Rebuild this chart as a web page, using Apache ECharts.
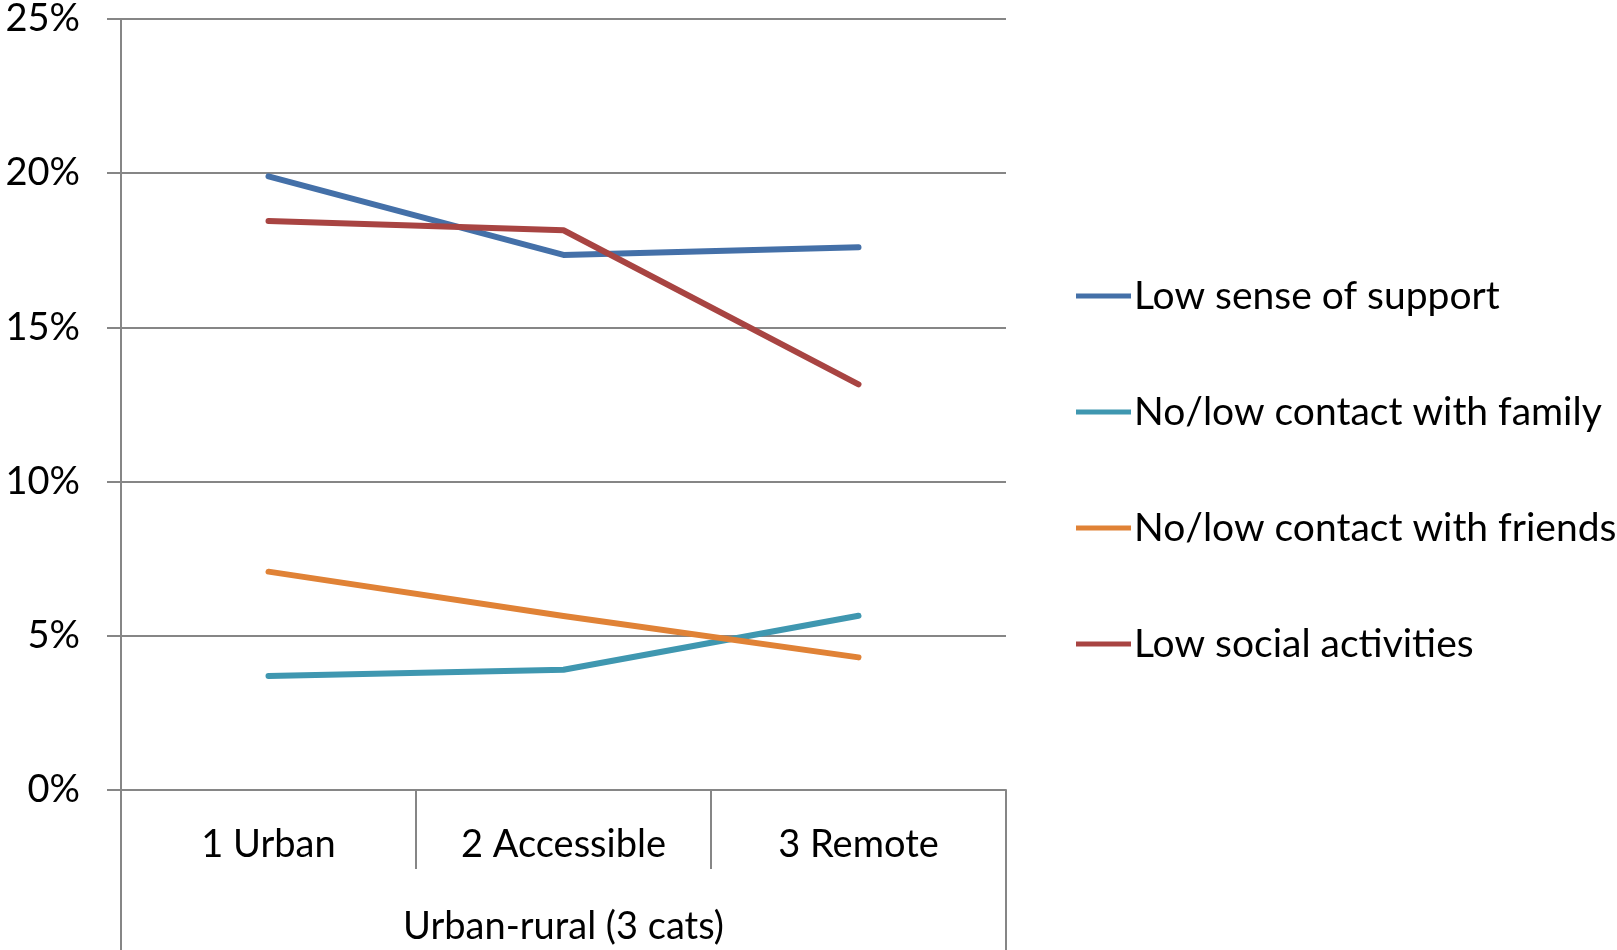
<!DOCTYPE html>
<html>
<head>
<meta charset="utf-8">
<script src="https://cdn.jsdelivr.net/npm/echarts@6/dist/echarts.min.js"></script>
<style>
  html, body { margin: 0; padding: 0; background: #fff; }
  #chart { width: 1617px; height: 950px; }
</style>
</head>
<body>
<div id="chart"></div>
<script>
var categories = ['1 Urban', '2 Accessible', '3 Remote'];
var groupLabel = ['Urban-rural (3 cats)'];
var seriesNames = ['Low sense of support', 'No/low contact with family', 'No/low contact with friends', 'Low social activities'];
var lowSupport = [19.9, 17.35, 17.6];
var lowFamily = [3.7, 3.9, 5.65];
var lowFriends = [7.08, 5.64, 4.3];
var lowSocial = [18.45, 18.15, 13.15];
var colors = ['#4470A8', '#3F97B0', '#E08236', '#A84442'];

var chartDom = document.getElementById('chart');
var myChart = echarts.init(chartDom);
var font = 'Lato';

function makeSeries(name, values, color) {
  return {
    name: name,
    type: 'line',
    data: values,
    symbol: 'none',
    xAxisIndex: 0,
    lineStyle: { color: color, width: 6, cap: 'round', join: 'round' },
    itemStyle: { color: color }
  };
}

var option = {
  animation: false,
  textStyle: { fontFamily: font },
  grid: { left: 121, right: 611, top: 18, bottom: 160 },
  legend: {
    orient: 'vertical',
    left: 1071,
    top: 271,
    itemWidth: 55,
    itemHeight: 5,
    itemGap: 76,
    icon: 'rect',
    textStyle: { fontFamily: font, fontSize: 39, color: '#000', padding: [0, 0, 0, -2], lineHeight: 40 },
    data: seriesNames
  },
  xAxis: [
    {
      type: 'category',
      data: categories,
      position: 'bottom',
      boundaryGap: true,
      axisLine: { lineStyle: { color: '#868686', width: 2 } },
      axisTick: { show: true, interval: 0, length: 79, lineStyle: { color: '#868686', width: 2 } },
      axisLabel: { fontSize: 38, color: '#000', margin: 36, fontFamily: font }
    },
    {
      type: 'category',
      data: groupLabel,
      position: 'bottom',
      boundaryGap: true,
      axisLine: { show: false },
      axisTick: { show: true, interval: 0, length: 162, lineStyle: { color: '#868686', width: 2 } },
      axisLabel: { fontSize: 38, color: '#000', margin: 118, fontFamily: font }
    }
  ],
  yAxis: {
    type: 'value',
    min: 0,
    max: 25,
    interval: 5,
    axisLine: { show: true, lineStyle: { color: '#868686', width: 2 } },
    axisTick: { show: true, length: 14, lineStyle: { color: '#868686', width: 2 } },
    splitLine: { lineStyle: { color: '#868686', width: 2 } },
    axisLabel: { fontSize: 38, color: '#000', margin: 41, fontFamily: font, formatter: '{value}%' }
  },
  series: [
    makeSeries(seriesNames[0], lowSupport, colors[0]),
    makeSeries(seriesNames[1], lowFamily, colors[1]),
    makeSeries(seriesNames[2], lowFriends, colors[2]),
    makeSeries(seriesNames[3], lowSocial, colors[3])
  ]
};

option && myChart.setOption(option);
</script>
</body>
</html>
